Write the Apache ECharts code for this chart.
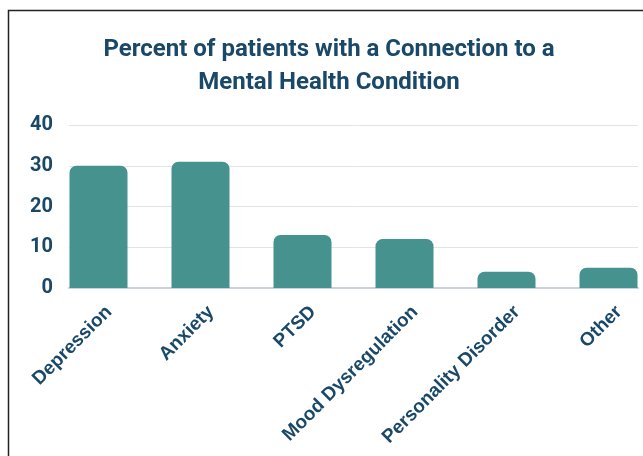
<!DOCTYPE html>
<html>
<head>
<meta charset="utf-8">
<script src="https://cdn.jsdelivr.net/npm/echarts@6/dist/echarts.min.js"></script>
<style>
html,body{margin:0;padding:0;background:#fff;}
#chart{width:643px;height:456px;}
</style>
</head>
<body>
<div id="chart"></div>
<script>
const categories = ["Depression", "Anxiety", "PTSD", "Mood Dysregulation", "Personality Disorder", "Other"];
const percentValues = [30, 31, 13, 12, 4, 5];
const yTicks = [0, 10, 20, 30, 40];
const titleText = "Percent of patients with a Connection to a\nMental Health Condition";

const navy = "#1a4869";
const teal = "#45928f";
const gTop = 125, gBottom = 168;

const chart = echarts.init(document.getElementById("chart"), null, {renderer: "canvas"});
chart.setOption({
  animation: false,
  title: {
    text: titleText,
    left: 324,
    top: 28,
    textAlign: "center",
    textStyle: {
      fontFamily: "Roboto",
      fontWeight: "bold",
      fontSize: 24,
      lineHeight: 33,
      color: navy
    }
  },
  graphic: [{
    type: "rect",
    shape: {x: 8.5, y: 10.5, width: 700, height: 500},
    style: {fill: "none", stroke: "#222", lineWidth: 1.5},
    silent: true,
    z: 100
  }],
  grid: [
    {left: 69, width: 569, top: gTop, bottom: gBottom, outerBoundsMode: "none", containLabel: false},
    {left: 47.5, width: 612, top: gTop, bottom: gBottom, outerBoundsMode: "none", containLabel: false},
    {left: 58, width: 612, top: gTop, bottom: gBottom, outerBoundsMode: "none", containLabel: false}
  ],
  xAxis: [
    {gridIndex: 0, type: "value", min: 0, max: 1, axisLabel: {show: false}, axisTick: {show: false}, splitLine: {show: false},
     axisLine: {show: true, lineStyle: {color: "#c9d1dc", width: 2}}},
    {gridIndex: 1, type: "category", data: categories, axisLine: {show: false}, axisTick: {show: false}, axisLabel: {show: false}},
    {gridIndex: 2, type: "category", data: categories, axisLine: {show: false}, axisTick: {show: false},
     axisLabel: {show: true, rotate: 45, margin: 21, interval: 0, color: navy, fontFamily: "Liberation Sans", fontWeight: "bold", fontSize: 19}}
  ],
  yAxis: [
    {gridIndex: 0, type: "value", min: yTicks[0], max: yTicks[yTicks.length - 1], interval: 10,
     axisLine: {show: false}, axisTick: {show: false},
     axisLabel: {margin: 16, color: navy, fontFamily: "Roboto", fontWeight: "bold", fontSize: 20},
     splitLine: {show: true, lineStyle: {color: "#e3e3e3", width: 1}}},
    {gridIndex: 1, type: "value", min: 0, max: 40, interval: 10, show: false},
    {gridIndex: 2, type: "value", min: 0, max: 40, interval: 10, show: false}
  ],
  series: [{
    type: "bar",
    xAxisIndex: 1,
    yAxisIndex: 1,
    data: percentValues,
    barWidth: 58,
    itemStyle: {color: teal, borderRadius: [7, 7, 0, 0]},
    z: 1
  }]
});
</script>
</body>
</html>
